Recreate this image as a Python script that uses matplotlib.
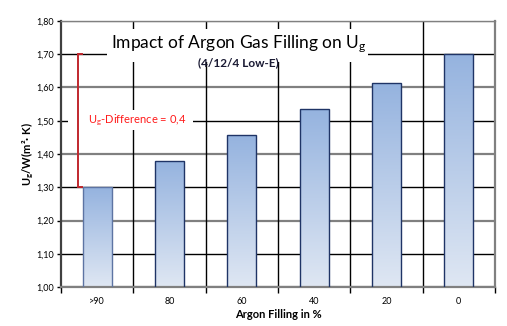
import numpy as np
import matplotlib
matplotlib.use("Agg")
import matplotlib.pyplot as plt
from matplotlib.colors import LinearSegmentedColormap
from matplotlib.patches import Rectangle

plt.rcParams['font.family'] = ['Lato', 'DejaVu Sans']
plt.rcParams['mathtext.fontset'] = 'custom'
plt.rcParams['mathtext.rm'] = 'Lato'
plt.rcParams['mathtext.it'] = 'Lato:italic'
plt.rcParams['mathtext.bf'] = 'Lato:bold'

categories = ['>90', '80', '60', '40', '20', '0']
ug_values = [1.30, 1.38, 1.457, 1.536, 1.613, 1.70]
y_ticks = [1.0, 1.1, 1.2, 1.3, 1.4, 1.5, 1.6, 1.7, 1.8]
y_tick_labels = ['1,00', '1,10', '1,20', '1,30', '1,40', '1,50', '1,60', '1,70', '1,80']

fig = plt.figure(figsize=(5.07, 3.26), dpi=100)
ax = fig.add_axes([0.1203, 0.1196, 0.856, 0.8160])

x = np.arange(len(categories))
ax.set_xlim(-0.5, len(categories) - 0.5)
ax.set_ylim(1.0, 1.8)

# grid: even lines grey, odd lines black, vertical separators black
for v in y_ticks:
    even = round(v * 10) % 2 == 0
    ax.axhline(v, color='#808080' if even else 'black', lw=1.6 if even else 1.0, zorder=1)
for b in np.arange(0.5, len(categories) - 0.5, 1.0):
    ax.axvline(b, color='black', lw=1.0, zorder=1)

cmap = LinearSegmentedColormap.from_list('bar', ['#dfe7f3', '#95b3df'])
bars = ax.bar(x, ug_values, width=0.4, bottom=0, color='none',
              edgecolor='#1f3466', lw=1.0, zorder=3)
bars[0].set_edgecolor('#5d74a3')
grad = np.linspace(0, 1, 256).reshape(-1, 1)
for bar in bars:
    x0, w, h = bar.get_x(), bar.get_width(), bar.get_height()
    im = ax.imshow(grad, cmap=cmap, aspect='auto', origin='lower',
                   extent=[x0, x0 + w, 1.0, h], zorder=2)
    im.set_clip_path(bar)

ax.set_xticks(x)
ax.set_xticklabels(categories, fontsize=6.5)
ax.set_xticks(np.arange(-0.5, len(categories), 1.0), minor=True)
ax.tick_params(axis='x', which='major', length=0, pad=7)
ax.tick_params(axis='x', which='minor', length=4, width=1.0, color='black')
ax.set_yticks(y_ticks)
ax.set_yticklabels(y_tick_labels, fontsize=6.5)
ax.tick_params(axis='y', length=3, width=1.0, color='black', pad=2)

for side in ['left', 'bottom', 'right']:
    ax.spines[side].set_color('#808080')
    ax.spines[side].set_linewidth(1.6)
ax.spines['top'].set_color('#808080')
ax.spines['top'].set_linewidth(1.0)
ax.spines['left'].set_color('#404040')

ax.set_xlabel('Argon Filling in %', fontsize=8, fontweight='bold', labelpad=2)
ax.set_ylabel(r'U$_\mathbf{g}$/W(m²· K)', fontsize=8, fontweight='bold', labelpad=0)

# title block with white background
ax.add_patch(Rectangle((0.136, 1.677), 3.61, 0.10, facecolor='white', edgecolor='none', zorder=4))
ax.text(1.955, 1.719, r'Impact of Argon Gas Filling on U$_\mathrm{g}$', fontsize=12.5,
        ha='center', va='baseline', zorder=5)
ax.text(1.955, 1.665, '(4/12/4 Low-E)', fontsize=8.5, fontweight='bold', color='#1a1a33',
        ha='center', va='baseline', zorder=5)

# bracket showing the difference
diff = ug_values[-1] - ug_values[0]
bx = -0.265
ax.add_patch(Rectangle((-0.403, 1.472), 1.73, 0.06, facecolor='white', edgecolor='none', zorder=4))
ax.plot([bx + 0.05, bx, bx, bx + 0.05], [ug_values[-1], ug_values[-1], ug_values[0], ug_values[0]],
        color='#c0272d', lw=1.4, zorder=6, solid_joinstyle='miter')
ax.text(-0.127, 1.5, r'U$_\mathrm{g}$-Difference = ' + f'{diff:.1f}'.replace('.', ','),
        color='#ff1a1a', fontsize=8, ha='left', va='center', zorder=5)

fig.savefig('out.png', dpi=100)
